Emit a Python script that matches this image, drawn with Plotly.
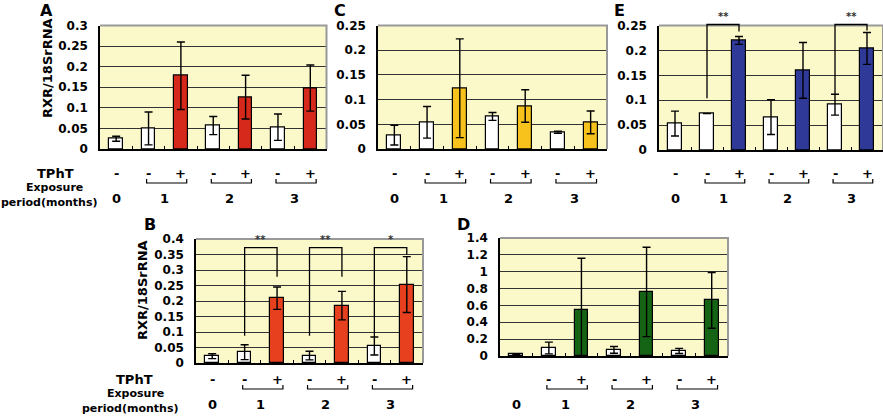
import plotly.graph_objects as go

# ---------------- data ----------------
categories = ["0-", "1-", "1+", "2-", "2+", "3-", "3+"]
sign_labels = ["-", "-", "+", "-", "+", "-", "+"]
sign_labels_D = ["", "-", "+", "-", "+", "-", "+"]
month_labels = ["0", "1", "2", "3"]
month_positions = [0, 1.5, 3.5, 5.5]

A_values = [0.025, 0.050, 0.178, 0.057, 0.126, 0.053, 0.148]
A_errors = [0.006, 0.040, 0.082, 0.022, 0.053, 0.032, 0.056]
B_values = [0.022, 0.035, 0.209, 0.024, 0.185, 0.055, 0.253]
B_errors = [0.008, 0.024, 0.036, 0.014, 0.046, 0.029, 0.090]
C_values = [0.028, 0.054, 0.123, 0.066, 0.087, 0.034, 0.054]
C_errors = [0.020, 0.032, 0.100, 0.008, 0.033, 0.002, 0.023]
D_values = [0.020, 0.095, 0.540, 0.072, 0.760, 0.060, 0.660]
D_errors = [0.004, 0.070, 0.620, 0.040, 0.530, 0.030, 0.330]
E_values = [0.053, 0.073, 0.220, 0.066, 0.160, 0.091, 0.204]
E_errors = [0.025, 0.000, 0.008, 0.035, 0.056, 0.021, 0.032]

# significance brackets: (left idx, right idx, label, left drop, right drop, top)
B_sig = [(1, 2, "**", 0.088, 0.278, 0.372),
         (3, 4, "**", 0.088, 0.278, 0.372),
         (5, 6, "*", 0.083, 0.350, 0.372)]
E_sig = [(1, 2, "**", 0.104, 0.238, 0.252),
         (5, 6, "**", 0.112, 0.240, 0.252)]

W, H = 883, 420
FONT = "DejaVu Sans"
BG = "#FBF8CA"


def px(x):
    return x / W


def py(y):
    return 1 - y / H


panels = [
    dict(key="A", vals=A_values, errs=A_errors, color="#D7281C", ymax=0.3, dtick=0.05,
         xd=(100, 326.5), yd=(25.5, 149), letter=(46, 10), ytitle=(48, 68),
         rows=[(56, 173), (54, 187), (49, 202)], sy=173, by=183, ny=198,
         signs=sign_labels, sig=[]),
    dict(key="C", vals=C_values, errs=C_errors, color="#F6C21B", ymax=0.25, dtick=0.05,
         xd=(378, 607), yd=(25.5, 149), letter=(340, 10), ytitle=None,
         rows=None, sy=173, by=183, ny=198, signs=sign_labels, sig=[]),
    dict(key="E", vals=E_values, errs=E_errors, color="#2F3A98", ymax=0.25, dtick=0.05,
         xd=(659, 883), yd=(25.5, 150), letter=(619, 10), ytitle=None,
         rows=None, sy=173, by=183, ny=198, signs=sign_labels, sig=E_sig),
    dict(key="B", vals=B_values, errs=B_errors, color="#E6401F", ymax=0.4, dtick=0.05,
         xd=(196, 423), yd=(239, 363), letter=(150, 224), ytitle=(142, 290),
         rows=[(134, 379), (135, 393), (130, 408)], sy=379, by=389, ny=404,
         signs=sign_labels, sig=B_sig),
    dict(key="D", vals=D_values, errs=D_errors, color="#156415", ymax=1.4, dtick=0.2,
         xd=(500, 728), yd=(238, 356), letter=(463, 224), ytitle=None,
         rows=None, sy=379, by=389, ny=404, signs=sign_labels_D, sig=[]),
]

row_texts = ["TPhT", "Exposure", "period(months)"]
row_sizes = [13, 11, 11]

fig = go.Figure()
annotations = []
shapes = []
layout = {}

for i, p in enumerate(panels):
    n = "" if i == 0 else str(i + 1)
    xa, ya = "x" + n, "y" + n
    colors = ["white" if s != "+" else p["color"] for s in sign_labels]
    fig.add_trace(go.Bar(
        x=list(range(len(categories))), y=p["vals"],
        xaxis=xa, yaxis=ya, width=0.42,
        marker=dict(color=colors, line=dict(color="black", width=1.2)),
        error_y=dict(type="data", array=p["errs"], visible=True,
                     color="black", thickness=1.4, width=4),
        cliponaxis=False, showlegend=False, hoverinfo="skip",
    ))
    layout["xaxis" + n] = dict(
        domain=[px(p["xd"][0]), px(p["xd"][1])], anchor=ya,
        range=[-0.5, 6.5], showgrid=False, zeroline=False, automargin=False,
        showline=True, linecolor="black", linewidth=1.5,
        tickmode="array", tickvals=[0.5, 1.5, 2.5, 3.5, 4.5, 5.5],
        ticks="inside", ticklen=3, tickwidth=1.2, tickcolor="black",
        showticklabels=False, fixedrange=True,
    )
    layout["yaxis" + n] = dict(
        domain=[py(p["yd"][1]), py(p["yd"][0])], anchor=xa,
        range=[0, p["ymax"]], dtick=p["dtick"], tick0=0, automargin=False,
        showgrid=True, gridcolor="#333333", gridwidth=1.4, zeroline=False,
        showline=True, linecolor="black", linewidth=1.5, ticks="",
        ticklabelstandoff=8,
        tickfont=dict(family=FONT, size=12, color="black", weight="bold"),
        fixedrange=True,
    )
    # gray border (top/right)
    shapes.append(dict(type="path", xref=xa + " domain", yref=ya + " domain",
                       path="M 0,1 L 1,1 L 1,0", layer="above",
                       line=dict(color="#999999", width=2)))
    # panel letter
    annotations.append(dict(text=p["key"], x=px(p["letter"][0]), y=py(p["letter"][1]),
                            xref="paper", yref="paper", showarrow=False,
                            xanchor="center", yanchor="middle",
                            font=dict(family=FONT, size=16, color="black", weight="bold")))
    # y title
    if p["ytitle"]:
        annotations.append(dict(text="RXR/18SrRNA", x=px(p["ytitle"][0]), y=py(p["ytitle"][1]),
                                xref="paper", yref="paper", showarrow=False, textangle=-90,
                                xanchor="center", yanchor="middle",
                                font=dict(family=FONT, size=13, color="black", weight="bold")))
    # row labels
    if p["rows"]:
        for (rx, ry), t, s in zip(p["rows"], row_texts, row_sizes):
            annotations.append(dict(text=t, x=px(rx), y=py(ry), xref="paper", yref="paper",
                                    showarrow=False, xanchor="center", yanchor="middle",
                                    font=dict(family=FONT, size=s, color="black", weight="bold")))
    # sign labels
    for k, s in enumerate(p["signs"]):
        if s:
            annotations.append(dict(text=s, x=k, y=py(p["sy"]), xref=xa, yref="paper",
                                    showarrow=False, xanchor="center", yanchor="middle",
                                    font=dict(family=FONT, size=13, color="black", weight="bold")))
    # month labels
    for m, mp in zip(month_labels, month_positions):
        annotations.append(dict(text=m, x=mp, y=py(p["ny"]), xref=xa, yref="paper",
                                showarrow=False, xanchor="center", yanchor="middle",
                                font=dict(family=FONT, size=13, color="black", weight="bold")))
    # brackets under months 1-3
    yb, yu = py(p["by"]), py(p["by"] - 4)
    for start in [1, 3, 5]:
        x0, x1 = start - 0.06, start + 1.18
        shapes.append(dict(type="path", xref=xa, yref="paper",
                           path=f"M {x0},{yu} L {x0},{yb} L {x1},{yb} L {x1},{yu}",
                           line=dict(color="black", width=1.2)))
    # significance brackets
    for (l, r, lab, dl, dr, top) in p["sig"]:
        ym = p["ymax"]
        shapes.append(dict(type="path", xref=xa, yref=ya + " domain",
                           path=f"M {l},{dl/ym} L {l},{top/ym} L {r},{top/ym} L {r},{dr/ym}",
                           line=dict(color="black", width=1.3)))
        annotations.append(dict(text=lab, x=(l + r) / 2, y=top / ym, xref=xa, yref=ya + " domain",
                                showarrow=False, xanchor="center", yanchor="bottom", yshift=1,
                                font=dict(family=FONT, size=10, color="#333333", weight="bold")))

fig.update_layout(
    width=W, height=H, margin=dict(l=0, r=0, t=0, b=0, autoexpand=False),
    paper_bgcolor="white", plot_bgcolor=BG,
    bargap=0, annotations=annotations, shapes=shapes, **layout,
)

fig.write_html(
    "out.html",
    config={"displayModeBar": False},
    post_script="document.body.style.margin='0';document.body.style.padding='0';"
                "document.documentElement.style.overflow='hidden';",
)
